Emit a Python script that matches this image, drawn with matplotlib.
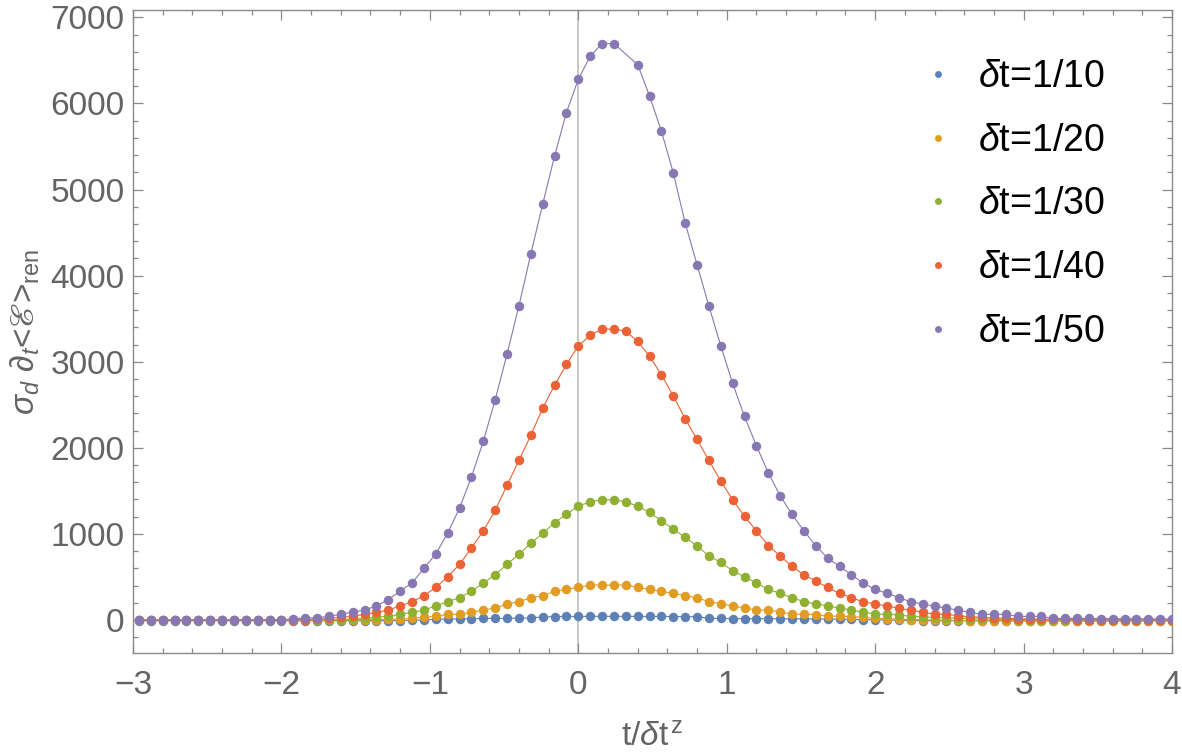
import numpy as np
import matplotlib
matplotlib.use("Agg")
import matplotlib.pyplot as plt
from matplotlib.lines import Line2D

plt.rcParams['font.family'] = ['Liberation Sans', 'DejaVu Sans']
plt.rcParams['mathtext.fontset'] = 'custom'
plt.rcParams['mathtext.rm'] = 'Liberation Sans'
plt.rcParams['mathtext.it'] = 'Liberation Sans:italic'
plt.rcParams['mathtext.bf'] = 'Liberation Sans:bold'
plt.rcParams['mathtext.fallback'] = 'stix'

# ---- data ----
x_vals = np.round(np.arange(-37, 51) * 0.08, 2)   # sampling grid t/dt^z : -2.96 ... 4.00

y_dt10 = [-8] * 12 + [-8] * 10 + \
    [-6, -4, 0, 8, 12, 13, 14, 18, 19, 20] + \
    [21, 25, 36, 40, 41] + \
    [42, 43, 43, 43, 43, 42, 42, 41, 40, 40] + \
    [38, 20, 18, 17, 16, 15, 15, 15, 14, 14] + \
    [12, 11, 10, 8, 5, 2, 0, -3, -5, -8] + \
    [-8] * 10 + [-8] * 11

y_dt20 = [0] * 12 + \
    [0, 0, 0, 0, 0, 0, 2, 4, 6, 8] + \
    [10, 20, 31, 43, 66, 66, 89, 116, 139, 186] + \
    [213, 259, 282, 333, 356] + \
    [379, 406, 406, 406, 406, 379, 356, 333, 310, 282] + \
    [259, 213, 189, 163, 139, 116, 116, 93, 68, 68] + \
    [62, 45, 45, 40, 31, 20, 15, 10, 6, 3] + \
    [0, -3, -5, -6, -8, -8, -8, -8, -8, -8] + \
    [-8] * 11

y_dt30 = [0] * 12 + \
    [0, 0, 0, 0, 2, 5, 10, 20, 31, 43] + \
    [66, 89, 116, 163, 213, 259, 333, 430, 526, 646] + \
    [766, 890, 1006, 1130, 1227] + \
    [1323, 1373, 1397, 1397, 1373, 1323, 1250, 1153, 1056, 960] + \
    [863, 743, 670, 572, 503, 430, 356, 310, 259, 213] + \
    [189, 163, 139, 116, 91, 70, 66, 60, 42, 38] + \
    [30, 25, 20, 16, 12, 10, 8, 6, 5, 4] + \
    [3, 2, 2, 1, 1, 0, 0, 0, 0, 0, 0]

y_dt40 = [0] * 12 + \
    [0, 2, 5, 10, 20, 31, 43, 66, 89, 116] + \
    [163, 213, 282, 379, 503, 646, 839, 1033, 1274, 1564] + \
    [1854, 2144, 2461, 2725, 2968] + \
    [3185, 3305, 3380, 3380, 3355, 3235, 3065, 2848, 2604, 2337] + \
    [2098, 1854, 1614, 1397, 1204, 1035, 865, 745, 623, 526] + \
    [453, 379, 310, 259, 211, 187, 163, 137, 114, 91] + \
    [68, 68, 48, 39, 30, 24, 20, 16, 12, 10] + \
    [8, 7, 6, 5, 4, 3, 3, 2, 2, 1, 1]

y_dt50 = [0] * 12 + \
    [3, 15, 22, 28, 42, 68, 91, 116, 163, 238] + \
    [336, 431, 600, 766, 1010, 1300, 1660, 2075, 2558, 3088] + \
    [3649, 4249, 4829, 5387, 5894] + \
    [6280, 6547, 6695, 6695, np.nan, 6451, 6087, 5677, 5193, 4612] + \
    [4129, 3647, 3185, 2748, 2365, 2024, 1710, 1443, 1227, 1035] + \
    [863, 720, 623, 526, 428, 356, 310, 261, 211, 186] + \
    [161, 137, 114, 89, 66, 66, 66, 42, 42, 42] + \
    [18, 18, 18, 18, 16, 16, 15, 15, 14, 13, 12]

series = [y_dt10, y_dt20, y_dt30, y_dt40, y_dt50]
labels = ['1/10', '1/20', '1/30', '1/40', '1/50']
colors = ['#5E81B5', '#E19C24', '#8FB032', '#EB6235', '#8778B3']

x_ticks = [-3, -2, -1, 0, 1, 2, 3, 4]
y_ticks = [0, 1000, 2000, 3000, 4000, 5000, 6000, 7000]

# ---- figure ----
W, H = 1182, 753
fig = plt.figure(figsize=(W / 100, H / 100), dpi=100)
ax = fig.add_axes([133 / W, 1 - 653 / H, (1172 - 133) / W, (653 - 10) / H])

ax.axvline(0, color='#c4c4c4', lw=1.3, zorder=1)

for ys, c in zip(series, colors):
    ys = np.asarray(ys, dtype=float)
    m = ~np.isnan(ys)
    ax.plot(x_vals[m], ys[m], '-', color=c, lw=0.8, zorder=2)
    ax.plot(x_vals, ys, 'o', color=c, ms=6.8, mec='none', zorder=3)

ax.set_xlim(-3, 4)
ax.set_ylim(-383, 7085)
ax.set_xticks(x_ticks)
ax.set_yticks(y_ticks)
ax.set_xticks(np.arange(-3, 4.01, 0.2), minor=True)
ax.set_yticks(np.arange(-200, 7001, 200), minor=True)

frame_col = '#8a8a8a'
lab_col = '#646464'
for s in ax.spines.values():
    s.set_color(frame_col)
    s.set_linewidth(1.0)
ax.tick_params(which='both', direction='in', top=True, right=True, color=frame_col, width=0.9)
ax.tick_params(which='major', length=7)
ax.tick_params(which='minor', length=3.6)
ax.tick_params(axis='x', which='major', labelsize=24, labelcolor=lab_col, pad=12)
ax.tick_params(axis='y', which='major', labelsize=24, labelcolor=lab_col, pad=6)

ax.set_xlabel(r't/$\mathit{δ}$t$^{\,\mathrm{z}}$', fontsize=24, color=lab_col, labelpad=16)
ax.set_ylabel(r'$\mathit{σ}_{\mathit{d}}\ \mathit{∂}_{\mathit{t}}$<$\mathit{ℰ}$>$_{\mathrm{ren}}$',
              fontsize=24, color=lab_col, labelpad=6)

handles = [Line2D([], [], marker='o', ls='none', color=c, ms=5, mec='none') for c in colors]
leg = ax.legend(handles, [r'$\mathit{δ}$t=' + l for l in labels],
                loc='upper left', bbox_to_anchor=(919 / W, 1 - 59 / H),
                bbox_transform=fig.transFigure, frameon=False, fontsize=27,
                handlelength=1.0, handletextpad=0.57, labelspacing=0.74,
                borderpad=0, borderaxespad=0)

fig.savefig('out.png', dpi=100)
